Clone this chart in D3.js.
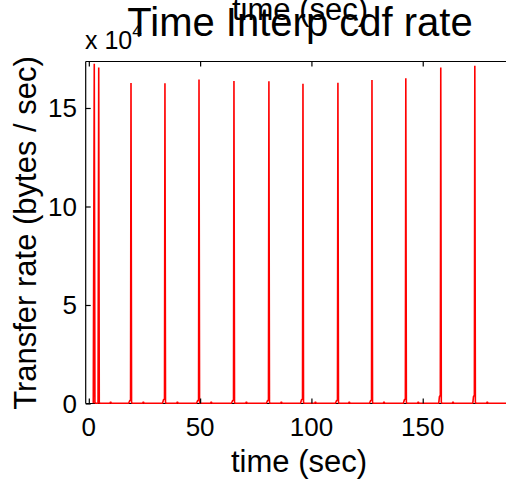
<!DOCTYPE html>
<html>
<head>
<meta charset="utf-8">
<script src="https://cdn.jsdelivr.net/npm/d3@7/dist/d3.min.js"></script>
<style>
  html, body { margin: 0; padding: 0; background: #fff; }
  svg { display: block; font-family: "Liberation Sans", Arial, Helvetica, sans-serif; }
</style>
</head>
<body>
<svg id="chart" width="506" height="484"></svg>
<script>
// ---- data (time in seconds, rate in bytes / sec) ----
const timeSec = [
  2.0, 2.45, 2.75, 3.0,
  4.15, 4.45, 4.7, 5.0,
  9.5, 9.8, 10.1,
  17.9, 18.4, 18.75, 18.95, 19.2, 19.6,
  24.2, 24.5, 24.8,
  33.1, 33.6, 34.0, 34.2, 34.45, 34.85,
  39.5, 39.8, 40.1,
  48.4, 48.9, 49.3, 49.5, 49.75, 50.15,
  54.7, 55.0, 55.3,
  64.1, 64.6, 65.0, 65.2, 65.45, 65.85,
  70.5, 70.8, 71.1,
  79.8, 80.3, 80.7, 80.9, 81.15, 81.55,
  86.2, 86.5, 86.8,
  95.1, 95.6, 96.0, 96.2, 96.45, 96.85,
  101.5, 101.8, 102.1,
  110.8, 111.3, 111.7, 111.9, 112.15, 112.55,
  116.7, 117.0, 117.3,
  126.1, 126.6, 127.0, 127.2, 127.45, 127.85,
  132.3, 132.6, 132.9,
  141.3, 141.8, 142.2, 142.4, 142.65, 143.05,
  147.7, 148.0, 148.3,
  157.2, 157.5, 157.9, 158.1, 158.35, 158.75,
  163.3, 163.6, 163.9,
  172.5, 172.8, 173.2, 173.4, 173.65, 174.05,
  178.7, 179.0, 179.3,
  192.0
];
const rateBps = [
  150, 172500, 400, 150,
  150, 170500, 400, 150,
  150, 900, 150,
  150, 1500, 1800, 162700, 400, 150,
  150, 900, 150,
  150, 2000, 2300, 162500, 400, 150,
  150, 900, 150,
  150, 1500, 1800, 164400, 400, 150,
  150, 900, 150,
  150, 1500, 1800, 163700, 400, 150,
  150, 900, 150,
  150, 1500, 1800, 163600, 400, 150,
  150, 900, 150,
  150, 2000, 2300, 162300, 400, 150,
  150, 900, 150,
  150, 1500, 1800, 162800, 400, 150,
  150, 900, 150,
  150, 1500, 1800, 164200, 400, 150,
  150, 900, 150,
  150, 2000, 2300, 165100, 400, 150,
  150, 900, 150,
  150, 3500, 4200, 170500, 400, 150,
  150, 900, 150,
  150, 3500, 4200, 171500, 400, 150,
  150, 900, 150,
  150
];
const xTicks = [0, 50, 100, 150];
const xTickLabels = ["0", "50", "100", "150"];
const yTicks = [0, 50000, 100000, 150000];
const yTickLabels = ["0", "5", "10", "15"];
const xDomain = [-1.4, 191];
const yDomain = [0, 173600];

const titleText = "Time Interp cdf rate";
const xLabelText = "time (sec)";
const yLabelText = "Transfer rate (bytes / sec)";

// ---- layout ----
const svg = d3.select("#chart");
const L = 85.7, R = 514, T = 61.5, B = 403.5;
const x = d3.scaleLinear().domain(xDomain).range([L, R]);
const y = d3.scaleLinear().domain(yDomain).range([B, T]);

const data = timeSec.map((t, i) => ({ t, v: rateBps[i] }));

// axes box lines
svg.append("line").attr("x1", L).attr("x2", R).attr("y1", T).attr("y2", T)
  .attr("stroke", "#000").attr("stroke-width", 1.2);
svg.append("line").attr("x1", L).attr("x2", R).attr("y1", B).attr("y2", B)
  .attr("stroke", "#000").attr("stroke-width", 1.2);
svg.append("line").attr("x1", L).attr("x2", L).attr("y1", T).attr("y2", B)
  .attr("stroke", "#000").attr("stroke-width", 1.2);

// data line
const line = d3.line().x(d => x(d.t)).y(d => y(d.v));
svg.append("path").datum(data)
  .attr("d", line)
  .attr("fill", "none")
  .attr("stroke", "#ff0000")
  .attr("stroke-width", 1.6)
  .attr("stroke-linejoin", "bevel");

// ticks via d3 axes (inward ticks)
const tickLen = 5;
const xBottom = d3.axisTop(x).tickValues(xTicks).tickSize(tickLen).tickFormat("");
const xTop = d3.axisBottom(x).tickValues(xTicks).tickSize(tickLen).tickFormat("");
const yLeft = d3.axisRight(y).tickValues(yTicks).tickSize(tickLen).tickFormat("");

function styleAxis(g) {
  g.select(".domain").remove();
  g.selectAll(".tick line").attr("stroke", "#000").attr("stroke-width", 1.2);
}
svg.append("g").attr("transform", `translate(0,${B})`).call(xBottom).call(styleAxis);
svg.append("g").attr("transform", `translate(0,${T})`).call(xTop).call(styleAxis);
svg.append("g").attr("transform", `translate(${L},0)`).call(yLeft).call(styleAxis);

// tick labels
const tickFont = 26;
svg.append("g").selectAll("text").data(xTicks).join("text")
  .attr("x", d => x(d)).attr("y", 436)
  .attr("text-anchor", "middle").attr("font-size", tickFont).attr("fill", "#000")
  .text((d, i) => xTickLabels[i]);
svg.append("g").selectAll("text").data(yTicks).join("text")
  .attr("x", 77).attr("y", d => y(d) + tickFont * 0.36)
  .attr("text-anchor", "end").attr("font-size", tickFont).attr("fill", "#000")
  .text((d, i) => yTickLabels[i]);

// exponent label
const exp = svg.append("text").attr("x", 85).attr("y", 49)
  .attr("font-size", 25).attr("fill", "#000");
exp.append("tspan").text("x 10");
exp.append("tspan").attr("dy", -12).attr("font-size", 17).text("4");

// top stray x label, then title
svg.append("text").attr("x", 300).attr("y", 20).attr("text-anchor", "middle")
  .attr("font-size", 31).attr("fill", "#000").text(xLabelText);
svg.append("text").attr("x", 300).attr("y", 36).attr("text-anchor", "middle")
  .attr("font-size", 40).attr("fill", "#000").text(titleText);

// bottom x label
svg.append("text").attr("x", 299).attr("y", 472).attr("text-anchor", "middle")
  .attr("font-size", 31).attr("fill", "#000").text(xLabelText);

// y label
svg.append("text")
  .attr("transform", `translate(36,233) rotate(-90)`)
  .attr("text-anchor", "middle").attr("font-size", 31).attr("fill", "#000")
  .text(yLabelText);
</script>
</body>
</html>
